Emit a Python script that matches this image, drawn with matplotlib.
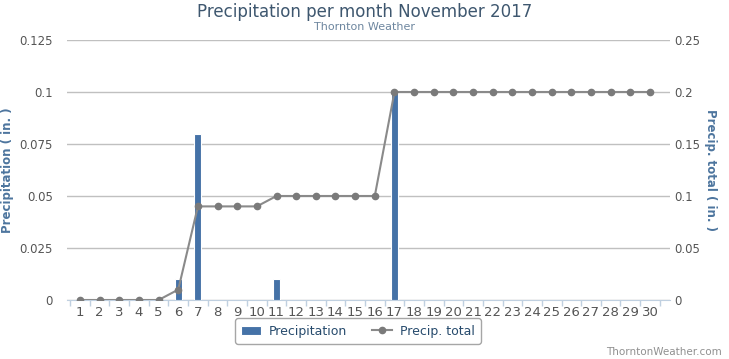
import numpy as np
import matplotlib
matplotlib.use("Agg")
import matplotlib.pyplot as plt
from matplotlib.ticker import FixedLocator

# データ
days = list(range(1, 31))
precip = [0, 0, 0, 0, 0, 0.01, 0.08, 0, 0, 0, 0.01, 0, 0, 0, 0, 0, 0.1,
          0, 0, 0, 0, 0, 0, 0, 0, 0, 0, 0, 0, 0]
precip_total = [0, 0, 0, 0, 0, 0.01, 0.09, 0.09, 0.09, 0.09, 0.1, 0.1, 0.1, 0.1, 0.1, 0.1,
                0.2, 0.2, 0.2, 0.2, 0.2, 0.2, 0.2, 0.2, 0.2, 0.2, 0.2, 0.2, 0.2, 0.2]
left_ticks = [0, 0.025, 0.05, 0.075, 0.1, 0.125]
left_labels = ["0", "0.025", "0.05", "0.075", "0.1", "0.125"]
right_ticks = [0, 0.05, 0.1, 0.15, 0.2, 0.25]
right_labels = ["0", "0.05", "0.1", "0.15", "0.2", "0.25"]

plt.rcParams['font.family'] = ['DejaVu Sans']

W, H = 729, 359
fig = plt.figure(figsize=(W / 100, H / 100), dpi=100)
ax = fig.add_axes([67 / W, 1 - 300 / H, (670 - 67) / W, (300 - 40) / H])
ax2 = ax.twinx()

# 棒グラフ（左軸）
bars = ax.bar(days, precip, width=0.36, color='#4572A7', edgecolor='white',
              linewidth=0.8, zorder=3, label='Precipitation')

# 累積の折れ線（右軸）
line, = ax2.plot(days, precip_total, color='#8a8a8a', linewidth=1.5, marker='o',
                 markersize=4.5, markerfacecolor='#7a7a7a', markeredgecolor='#7a7a7a',
                 zorder=4, label='Precip. total')

ax.set_xlim(0.34, 31.02)
ax.set_ylim(0, 0.125)
ax2.set_ylim(0, 0.25)

ax.set_xticks(days)
ax.set_xticklabels([str(d) for d in days], fontsize=9.5, color='#555555')
ax.xaxis.set_minor_locator(FixedLocator([d + 0.5 for d in range(0, 31)]))
ax.tick_params(axis='x', which='major', length=0, pad=4)
ax.tick_params(axis='x', which='minor', length=4, color='#C0D0E0', width=1)

ax.set_yticks(left_ticks)
ax.set_yticklabels(left_labels, fontsize=8.5, color='#555555')
ax.tick_params(axis='y', length=0, pad=10)
ax2.set_yticks(right_ticks)
ax2.set_yticklabels(right_labels, fontsize=8.5, color='#555555')
ax2.tick_params(axis='y', length=0, pad=3)

ax.grid(axis='y', color='#C0C0C0', linewidth=1, zorder=0)
ax.set_axisbelow(True)
for a in (ax, ax2):
    for s in a.spines.values():
        s.set_visible(False)
ax.spines['bottom'].set_visible(True)
ax.spines['bottom'].set_color('#C0D0E0')

ax.set_ylabel('Precipitation ( in. )', fontsize=8.5, color='#4D759E', fontweight='bold')
ax.yaxis.set_label_coords((14 - 67) / (670 - 67), 0.5)
ax2.set_ylabel('Precip. total ( in. )', fontsize=8.5, color='#4D759E', fontweight='bold',
               rotation=-90, va='center')
ax2.yaxis.set_label_coords((711 - 67) / (670 - 67), 0.5)

fig.text(0.5, 1 - 12 / H, 'Precipitation per month November 2017', ha='center', va='center',
         fontsize=12, color='#3E576F')
fig.text(0.5, 1 - 27 / H, 'Thornton Weather', ha='center', va='center',
         fontsize=8, color='#6D869F')

leg = fig.legend(handles=[bars, line], loc='center', bbox_to_anchor=(358 / W, 1 - 331 / H),
                 ncol=2, fontsize=9, frameon=True, fancybox=True, edgecolor='#909090',
                 handlelength=1.6, columnspacing=2.0, borderpad=0.5, handletextpad=0.6)
leg.get_frame().set_linewidth(1)
for t in leg.get_texts():
    t.set_color('#274B6D')

fig.text(722 / W, 1 - 352 / H, 'ThorntonWeather.com', ha='right', va='center',
         fontsize=7.5, color='#909090')

plt.savefig('out.png', dpi=100)
